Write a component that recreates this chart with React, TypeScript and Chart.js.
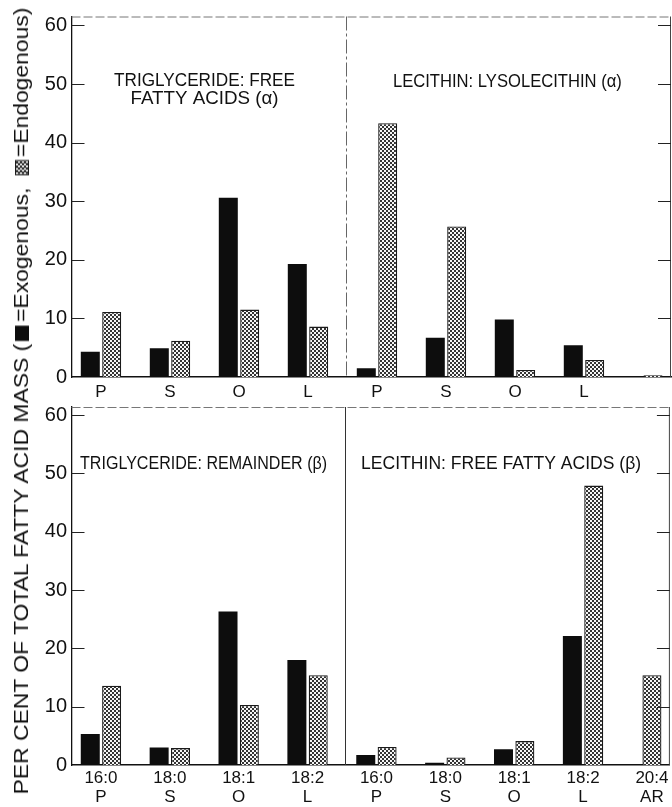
import React, { useEffect, useRef } from 'react';
import { Chart, registerables } from 'chart.js';

Chart.register(...registerables);

// ---------- data ----------
const topCategories = ['P', 'S', 'O', 'L', 'P', 'S', 'O', 'L', ''];
const bottomCategories = [
  ['16:0', 'P'], ['18:0', 'S'], ['18:1', 'O'], ['18:2', 'L'],
  ['16:0', 'P'], ['18:0', 'S'], ['18:1', 'O'], ['18:2', 'L'], ['20:4', 'AR'],
];
const topExogenous = [4.3, 4.9, 30.6, 19.3, 1.5, 6.7, 9.8, 5.4, null];
const topEndogenous = [11.1, 6.2, 11.5, 8.6, 43.3, 25.7, 1.2, 2.9, 0.3];
const bottomExogenous = [5.3, 3.0, 26.3, 18.0, 1.7, 0.4, 2.7, 22.1, null];
const bottomEndogenous = [13.6, 2.9, 10.3, 15.4, 3.1, 1.3, 4.1, 47.9, 15.4];
const yTickValues = [0, 10, 20, 30, 40, 50, 60];

const topPanelTitles = [
  { text: 'TRIGLYCERIDE: FREE', x: 2.5, y: 50.5, width: 181 },
  { text: 'FATTY ACIDS (α)', x: 2.5, y: 47.4, width: 148 },
  { text: 'LECITHIN: LYSOLECITHIN (α)', x: 6.89, y: 50.3, width: 229 },
];
const bottomPanelTitles = [
  { text: 'TRIGLYCERIDE: REMAINDER (β)', x: 2.49, y: 51.6, width: 247 },
  { text: 'LECITHIN: FREE FATTY ACIDS (β)', x: 6.81, y: 51.6, width: 280 },
];

const FONT = '"Liberation Sans", Arial, sans-serif';
const INK = '#111';

function makePattern(ctx: CanvasRenderingContext2D) {
  const c = document.createElement('canvas');
  c.width = 4;
  c.height = 4;
  const g = c.getContext('2d')!;
  g.fillStyle = '#f6f6f6';
  g.fillRect(0, 0, 4, 4);
  g.fillStyle = '#333';
  g.fillRect(0, 0, 2, 2);
  g.fillRect(2, 2, 2, 2);
  return ctx.createPattern(c, 'repeat')!;
}

function decorPlugin(titles: any[], solidSeparator: boolean) {
  return {
    id: 'decor',
    afterDraw(chart: any) {
      const ctx = chart.ctx as CanvasRenderingContext2D;
      const a = chart.chartArea;
      const xs = chart.scales.x;
      const ys = chart.scales.y;
      ctx.save();
      // top frame
      ctx.strokeStyle = '#777';
      ctx.lineWidth = 1;
      ctx.setLineDash([9, 3]);
      ctx.beginPath();
      ctx.moveTo(a.left, a.top + 0.5);
      ctx.lineTo(a.right, a.top + 0.5);
      ctx.stroke();
      // separator
      ctx.strokeStyle = solidSeparator ? '#333' : '#666';
      if (solidSeparator) ctx.setLineDash([]);
      else ctx.setLineDash([14, 3, 3, 3]);
      const sx = Math.round(xs.getPixelForValue(4.55)) + 0.5;
      ctx.beginPath();
      ctx.moveTo(sx, a.top);
      ctx.lineTo(sx, a.bottom);
      ctx.stroke();
      // right frame
      ctx.setLineDash([]);
      ctx.strokeStyle = '#444';
      ctx.beginPath();
      ctx.moveTo(a.right - 0.5, a.top);
      ctx.lineTo(a.right - 0.5, a.bottom);
      ctx.stroke();
      // inward ticks
      ctx.strokeStyle = '#222';
      ctx.lineWidth = 1.2;
      yTickValues.forEach((v) => {
        if (v === 0) return;
        const py = Math.round(ys.getPixelForValue(v)) + 0.5;
        ctx.beginPath();
        ctx.moveTo(a.left, py);
        ctx.lineTo(a.left + 13, py);
        ctx.moveTo(a.right - 13, py);
        ctx.lineTo(a.right, py);
        ctx.stroke();
      });
      // panel titles
      ctx.fillStyle = INK;
      ctx.font = `18px ${FONT}`;
      ctx.textAlign = 'center';
      ctx.textBaseline = 'middle';
      titles.forEach((t) => {
        const cx = xs.getPixelForValue(t.x);
        const cy = ys.getPixelForValue(t.y);
        const w = ctx.measureText(t.text).width;
        ctx.save();
        ctx.translate(cx, cy);
        ctx.scale(t.width / w, 1);
        ctx.fillText(t.text, 0, 0);
        ctx.restore();
      });
      ctx.restore();
    },
  };
}

function makeChart(canvas: HTMLCanvasElement, cfg: any) {
  const ctx = canvas.getContext('2d')!;
  const pattern = makePattern(ctx);
  const toPoints = (arr: (number | null)[]) => arr.map((v, i) => ({ x: i + 1, y: v }));
  return new Chart(ctx, {
    type: 'bar',
    data: {
      datasets: [
        {
          label: 'Exogenous',
          data: toPoints(cfg.exo) as any,
          backgroundColor: '#0d0d0d',
          borderWidth: 0,
          categoryPercentage: 0.62,
          barPercentage: 0.89,
          maxBarThickness: 19,
          skipNull: true,
        } as any,
        {
          label: 'Endogenous',
          data: toPoints(cfg.endo) as any,
          backgroundColor: pattern as any,
          borderColor: '#1a1a1a',
          borderWidth: 1.3,
          categoryPercentage: 0.62,
          barPercentage: 0.89,
          maxBarThickness: 19,
          skipNull: true,
        } as any,
      ],
    },
    options: {
      animation: false,
      responsive: false,
      events: [],
      layout: { padding: cfg.padding },
      plugins: { legend: { display: false }, tooltip: { enabled: false }, title: { display: false } },
      scales: {
        x: {
          type: 'linear',
          offset: false,
          min: 0.5725,
          max: 9.261,
          afterBuildTicks: (s: any) => {
            s.ticks = cfg.labels.map((_: any, i: number) => ({ value: i + 1 }));
          },
          afterFit: (s: any) => {
            s.height = cfg.axisHeight;
          },
          grid: { display: false, drawTicks: false, offset: false },
          border: { display: true, color: INK, width: 1.6 },
          ticks: {
            autoSkip: false,
            maxRotation: 0,
            minRotation: 0,
            padding: cfg.tickPadding,
            color: INK,
            font: { family: FONT, size: 17, lineHeight: cfg.lineHeight },
            callback: (value: any) => cfg.labels[Math.round(Number(value)) - 1] ?? '',
          },
        },
        y: {
          type: 'linear',
          min: 0,
          max: cfg.yMax,
          afterBuildTicks: (s: any) => {
            s.ticks = yTickValues.map((v) => ({ value: v }));
          },
          afterFit: (s: any) => {
            s.width = 71.5;
          },
          grid: { display: false, drawTicks: false },
          border: { display: true, color: INK, width: 1.3 },
          ticks: {
            padding: 4.5,
            color: INK,
            font: { family: FONT, size: 20 },
          },
        },
      } as any,
    },
    plugins: [decorPlugin(cfg.titles, cfg.solidSeparator)],
  });
}

export default function App() {
  const topRef = useRef<HTMLCanvasElement>(null);
  const bottomRef = useRef<HTMLCanvasElement>(null);
  const titleRef = useRef<HTMLDivElement>(null);

  useEffect(() => {
    const el = titleRef.current;
    if (el) {
      const w = el.offsetWidth;
      const k = 787 / w;
      el.style.transform = `translate(-50%, -50%) rotate(-90deg) scaleX(${k})`;
    }
    const top = makeChart(topRef.current!, {
      labels: topCategories,
      exo: topExogenous,
      endo: topEndogenous,
      yMax: 61.53,
      padding: { top: 15, right: 1, left: 0, bottom: 402 },
      axisHeight: 28,
      tickPadding: 5,
      lineHeight: 1.2,
      titles: topPanelTitles,
      solidSeparator: false,
    });
    const bottom = makeChart(bottomRef.current!, {
      labels: bottomCategories,
      exo: bottomExogenous,
      endo: bottomEndogenous,
      yMax: 61.37,
      padding: { top: 407, right: 1, left: 0, bottom: 0 },
      axisHeight: 42,
      tickPadding: 3.5,
      lineHeight: 1.12,
      titles: bottomPanelTitles,
      solidSeparator: true,
    });
    return () => {
      top.destroy();
      bottom.destroy();
    };
  }, []);

  const box = (dotted: boolean): React.CSSProperties => ({
    display: 'inline-block',
    width: 14,
    height: 14,
    margin: '0 3px',
    verticalAlign: '-1px',
    boxSizing: 'border-box',
    background: dotted
      ? 'repeating-conic-gradient(#333 0% 25%, #f6f6f6 0% 50%) 0 0 / 4px 4px'
      : '#0d0d0d',
    border: dotted ? '1px solid #1a1a1a' : 'none',
  });

  return (
    <div
      style={{
        position: 'fixed',
        left: 0,
        top: 0,
        width: 672,
        height: 807,
        background: '#fff',
        overflow: 'hidden',
      }}
    >
      <canvas ref={topRef} width={672} height={807} style={{ position: 'absolute', left: 0, top: 0, width: 672, height: 807 }} />
      <canvas ref={bottomRef} width={672} height={807} style={{ position: 'absolute', left: 0, top: 0, width: 672, height: 807 }} />
      <div
        ref={titleRef}
        style={{
          position: 'absolute',
          left: 21,
          top: 401,
          whiteSpace: 'nowrap',
          fontFamily: FONT,
          fontSize: 21,
          lineHeight: '24px',
          color: INK,
          transform: 'translate(-50%, -50%) rotate(-90deg)',
        }}
      >
        PER CENT OF TOTAL FATTY ACID MASS (<span style={box(false)} />=Exogenous,<span style={{ display: 'inline-block', width: 8 }} /><span style={box(true)} />=Endogenous)
      </div>
    </div>
  );
}
